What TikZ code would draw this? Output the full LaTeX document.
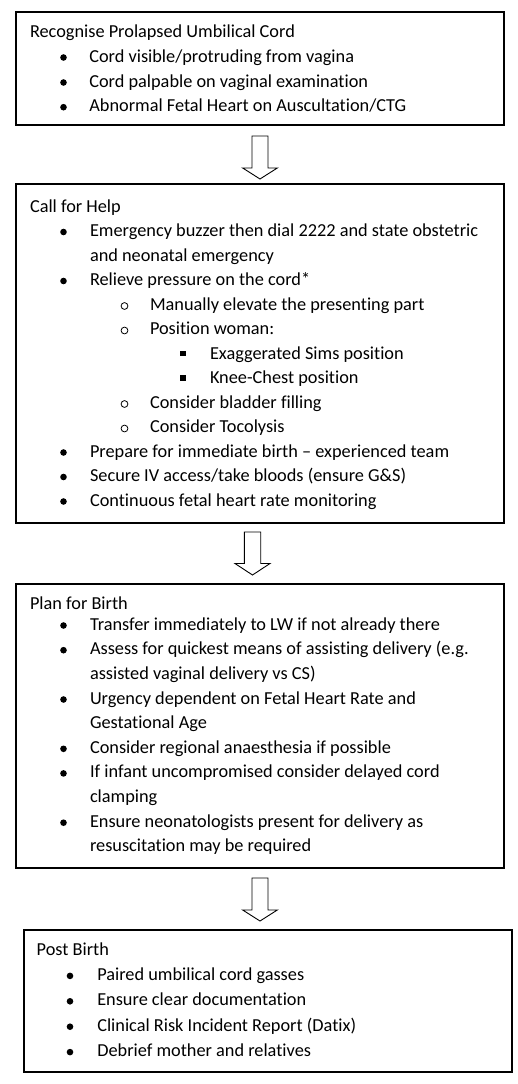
\documentclass[tikz,border=0pt]{standalone}
\usepackage{fontspec}
\setmainfont{Carlito}[Ligatures={NoCommon}]
\begin{document}
\begin{tikzpicture}[x=1bp,y=-1bp,
  every node/.style={inner sep=0pt, outer sep=0pt},
  box/.style={draw=black, line width=1.1bp},
  t/.style={anchor=base west, font=\fontsize{18.3bp}{22bp}\selectfont},
  bul/.style={circle, fill=black, minimum size=6.6bp},
  cbul/.style={circle, draw=black, line width=0.8bp, minimum size=6.8bp},
  sbul/.style={rectangle, fill=black, minimum size=5.8bp},
  barrow/.style={draw=black, line width=0.9bp, fill=white, line join=miter}]
\useasboundingbox (0,0) rectangle (518,1084);

% boxes
\node[box, minimum width=488bp, minimum height=113bp] (box1) at (260,68.5) {};
\node[box, minimum width=488bp, minimum height=339bp] (box2) at (260,353.5) {};
\node[box, minimum width=488bp, minimum height=284bp] (box3) at (260,726) {};
\node[box, minimum width=488bp, minimum height=142bp] (box4) at (268,1001) {};

% block arrows
\draw[barrow] (252,136) -- (268,136) -- (268,168) -- (277.3,168) -- (260,179) -- (242.7,168) -- (252,168) -- cycle;
\draw[barrow] (244.3,532) -- (260.7,532) -- (260.7,563.5) -- (270,563.5) -- (252.5,575) -- (235,563.5) -- (244.3,563.5) -- cycle;
\draw[barrow] (252,878) -- (268,878) -- (268,910) -- (277.3,910) -- (260,921) -- (242.7,910) -- (252,910) -- cycle;

% box 1
\node[t] (t1) at (30,37.3) {Recognise Prolapsed Umbilical Cord};
\node[bul] (b1a) at (63.5,57.5) {};
\node[t] (t1a) at (89.3,62) {Cord visible/protruding from vagina};
\node[bul] (b1b) at (63.5,82.5) {};
\node[t] (t1b) at (89.3,87) {Cord palpable on vaginal examination};
\node[bul] (b1c) at (63.5,107.2) {};
\node[t] (t1c) at (89.3,111.7) {Abnormal Fetal Heart on Auscultation/CTG};

% box 2
\node[t] (t2) at (30,212) {Call for Help};
\node[bul] (b2a) at (63.5,232) {};
\node[t] (t2a) at (90,236.5) {Emergency buzzer then dial 2222 and state obstetric};
\node[t] (t2a2) at (90,261) {and neonatal emergency};
\node[bul] (b2b) at (63.5,281) {};
\node[t] (t2b) at (90,285.5) {Relieve pressure on the cord*};
\node[cbul] (c2a) at (124.5,306) {};
\node[t] (t2c) at (150,310) {Manually elevate the presenting part};
\node[cbul] (c2b) at (124.5,330.5) {};
\node[t] (t2d) at (150,334.5) {Position woman:};
\node[sbul] (s2a) at (183,353.5) {};
\node[t] (t2e) at (210,359) {Exaggerated Sims position};
\node[sbul] (s2b) at (183,378) {};
\node[t] (t2f) at (210,383.5) {Knee-Chest position};
\node[cbul] (c2c) at (124.5,404) {};
\node[t] (t2g) at (150,408) {Consider bladder filling};
\node[cbul] (c2d) at (124.5,428.5) {};
\node[t] (t2h) at (150,432.5) {Consider Tocolysis};
\node[bul] (b2c) at (63.5,452.5) {};
\node[t] (t2i) at (90,457) {Prepare for immediate birth – experienced team};
\node[bul] (b2d) at (63.5,477) {};
\node[t] (t2j) at (90,481.5) {Secure IV access/take bloods (ensure G\&S)};
\node[bul] (b2e) at (63.5,501.5) {};
\node[t] (t2k) at (90,506) {Continuous fetal heart rate monitoring};

% box 3
\node[t] (t3) at (30,609) {Plan for Birth};
\node[bul] (b3a) at (63.5,625.5) {};
\node[t] (t3a) at (90,630) {Transfer immediately to LW if not already there};
\node[bul] (b3b) at (63.5,650.2) {};
\node[t] (t3b) at (90,654.7) {Assess for quickest means of assisting delivery (e.g.};
\node[t] (t3b2) at (90,679.3) {assisted vaginal delivery vs CS)};
\node[bul] (b3c) at (63.5,699.5) {};
\node[t] (t3c) at (90,704) {Urgency dependent on Fetal Heart Rate and};
\node[t] (t3c2) at (90,728.6) {Gestational Age};
\node[bul] (b3d) at (63.5,748.8) {};
\node[t] (t3d) at (90,753.3) {Consider regional anaesthesia if possible};
\node[bul] (b3e) at (63.5,773.4) {};
\node[t] (t3e) at (90,777.9) {If infant uncompromised consider delayed cord};
\node[t] (t3e2) at (90,802.6) {clamping};
\node[bul] (b3f) at (63.5,822.7) {};
\node[t] (t3f) at (90,827.2) {Ensure neonatologists present for delivery as};
\node[t] (t3f2) at (90,851.9) {resuscitation may be required};

% box 4
\node[t] (t4) at (36.7,955) {Post Birth};
\node[bul] (b4a) at (70,975.9) {};
\node[t] (t4a) at (97.3,980.4) {Paired umbilical cord gasses};
\node[bul] (b4b) at (70,1001.3) {};
\node[t] (t4b) at (97.3,1005.8) {Ensure clear documentation};
\node[bul] (b4c) at (70,1026.7) {};
\node[t] (t4c) at (97.3,1031.2) {Clinical Risk Incident Report (Datix)};
\node[bul] (b4d) at (70,1052.1) {};
\node[t] (t4d) at (97.3,1056.6) {Debrief mother and relatives};
\end{tikzpicture}
\end{document}
